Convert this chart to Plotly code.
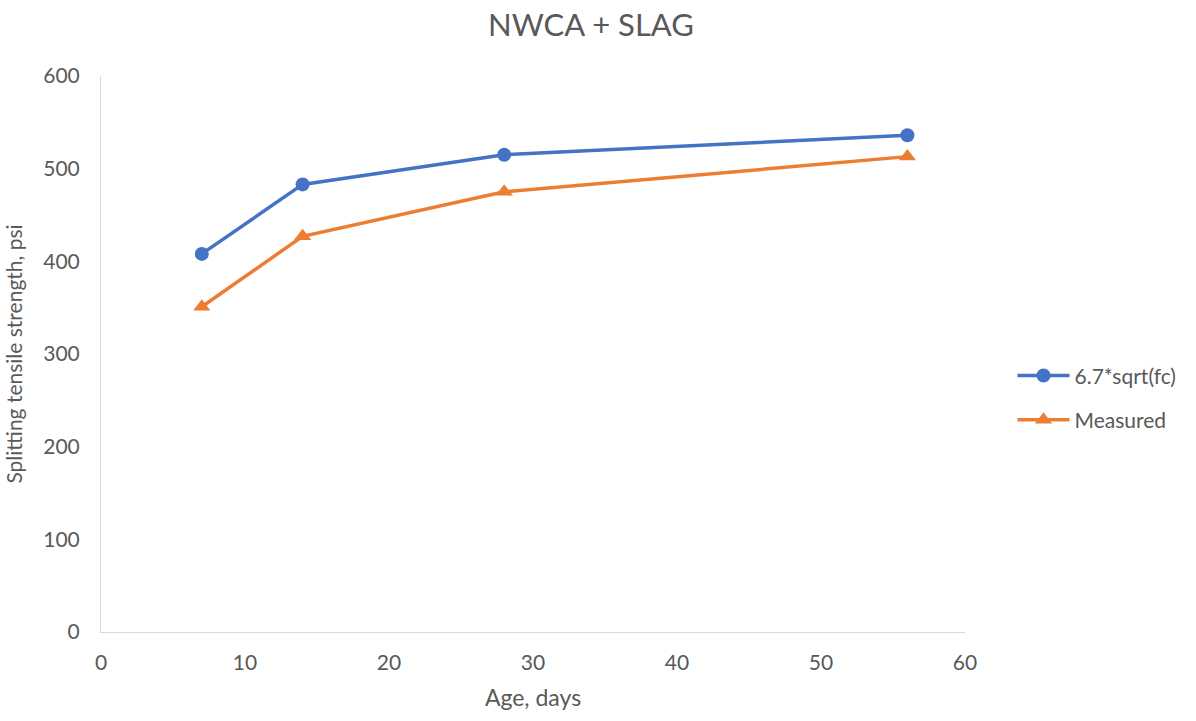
import plotly.graph_objects as go

age_days = [7, 14, 28, 56]
predicted = [408, 483, 515, 536]
measured = [351, 427, 475, 513]
series_names = ["6.7*sqrt(fc)", "Measured"]

fig = go.Figure()
fig.add_trace(go.Scatter(x=age_days, y=predicted, name=series_names[0], mode="lines+markers",
                         legendgroup="a",
                         line=dict(color="#4472C4", width=3.5),
                         marker=dict(symbol="circle", size=14, color="#4472C4")))
fig.add_trace(go.Scatter(x=age_days, y=measured, name=series_names[1], mode="lines+markers",
                         legendgroup="b",
                         line=dict(color="#ED7D31", width=3.5),
                         marker=dict(symbol="triangle-up", size=15, color="#ED7D31")))

font = "Lato, Carlito, Calibri, sans-serif"
fig.update_layout(
    width=1196, height=721,
    margin=dict(l=101, r=231, t=76, b=89, autoexpand=False),
    paper_bgcolor="white", plot_bgcolor="white",
    font=dict(family=font, size=21, color="#595959"),
    title=dict(text="NWCA + SLAG", x=591 / 1196, xanchor="center", y=0.965, yanchor="middle",
               font=dict(size=31, color="#595959")),
    xaxis=dict(range=[0, 60], dtick=10, showgrid=False, zeroline=False, showline=True,
               linecolor="#D9D9D9", linewidth=1, ticks="", tickfont=dict(size=21),
               ticklabelstandoff=12,
               title=dict(text="Age, days", font=dict(size=23), standoff=16)),
    yaxis=dict(range=[0, 600], dtick=100, showgrid=False, zeroline=False, showline=True,
               linecolor="#D9D9D9", linewidth=1, ticks="", tickfont=dict(size=21),
               ticklabelstandoff=16,
               title=dict(text="Splitting tensile strength, psi", font=dict(size=21), standoff=14)),
    legend=dict(x=1.055, y=0.421, xanchor="left", yanchor="middle", font=dict(size=21),
                bgcolor="rgba(0,0,0,0)", tracegroupgap=14, itemwidth=52),
)
fig.write_html("out.html")
